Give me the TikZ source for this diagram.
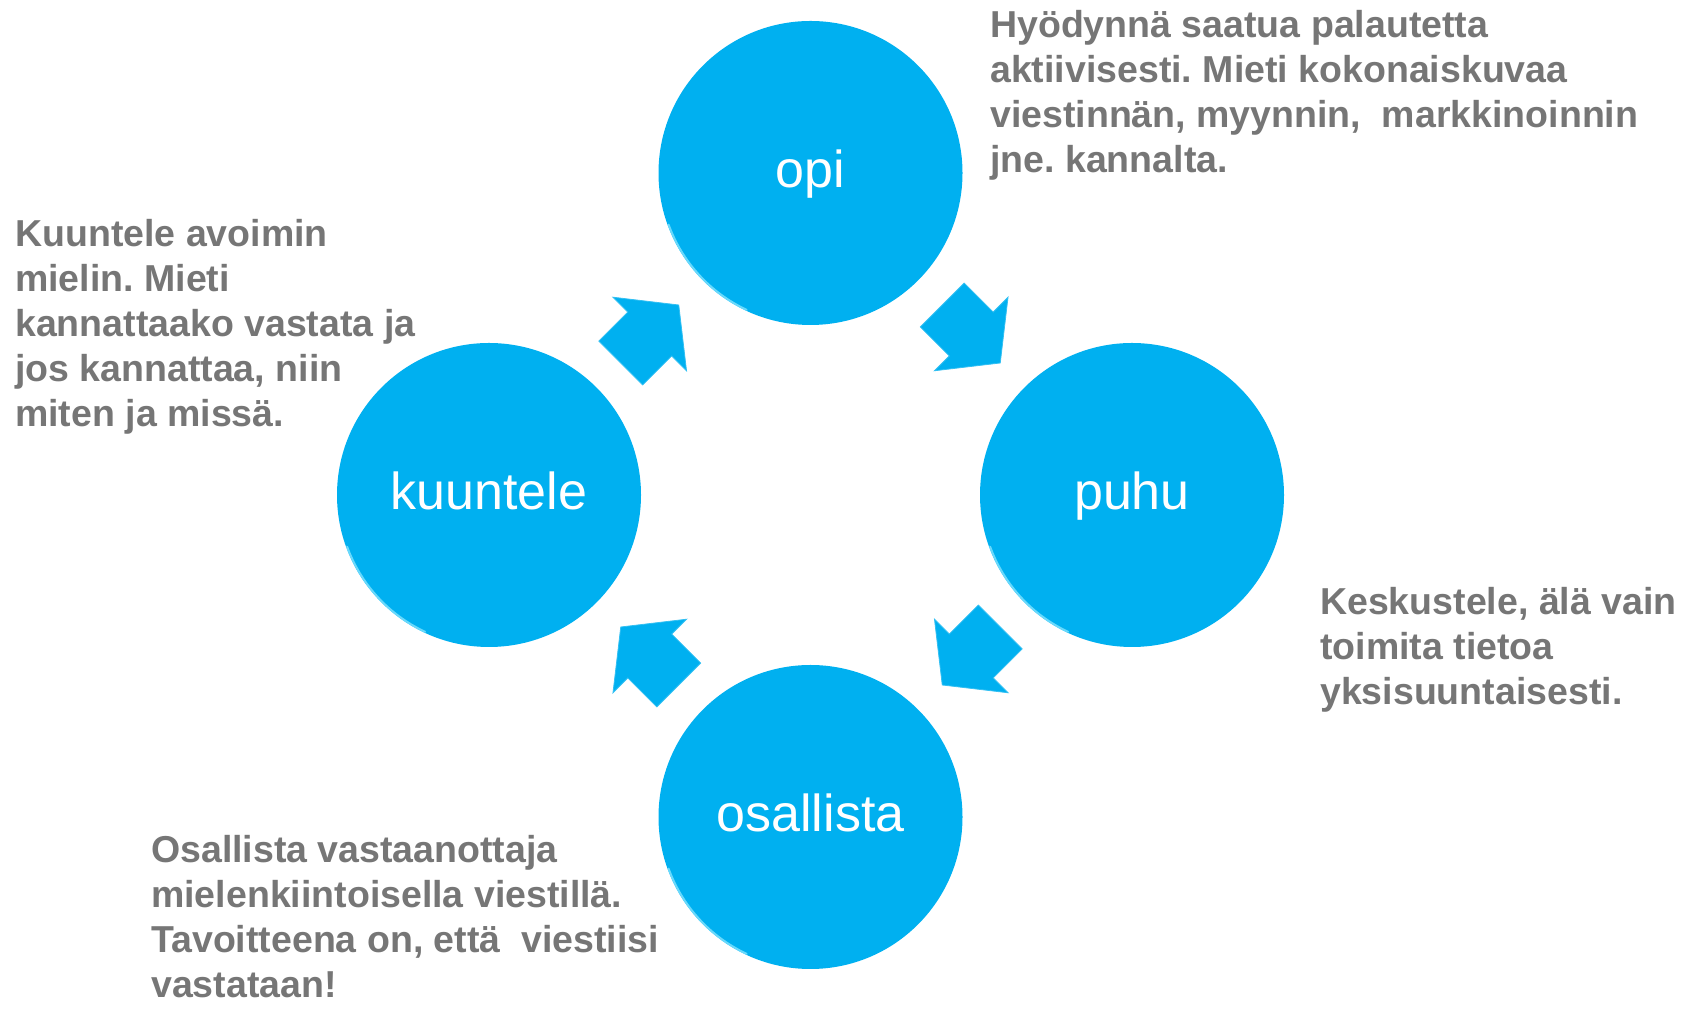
\documentclass[tikz,border=0pt]{standalone}
\usepackage{fontspec}
\setmainfont{Liberation Sans}
\usetikzlibrary{calc}
\definecolor{circblue}{RGB}{0,176,240}
\definecolor{txtgray}{RGB}{118,118,118}
\definecolor{glint}{RGB}{130,228,255}
\frenchspacing
\begin{document}
\begin{tikzpicture}[x=1pt,y=1pt,
  phase/.style={circle, fill=circblue, minimum size=304pt, inner sep=0pt,
    text=white, font=\fontsize{52pt}{60pt}\selectfont, text height=30pt, text depth=0pt},
  note/.style={text=txtgray, font=\fontsize{37.5pt}{45pt}\selectfont\bfseries,
    anchor=base west, inner sep=0pt},
  blockarrow/.style={fill=circblue, draw=circblue!80!white, line width=0.8pt, line join=miter},
  rim/.style={glint, line width=2pt, opacity=0.8, line cap=round}]
\useasboundingbox (0,0) rectangle (1690,1011);

% circles
\node[phase] (opi) at (810.5,838) {opi};
\node[phase] (kuuntele) at (489,516) {kuuntele};
\node[phase] (puhu) at (1132,516) {puhu};
\node[phase] (osallista) at (810.5,194) {osallista};

% rim highlights
\foreach \c in {opi,kuuntele,puhu,osallista}{
  \draw[rim] ($(\c.center)+(200:151)$) arc[start angle=200, end angle=245, radius=151];
}

% block arrows between circles
\filldraw[blockarrow, shift={($(kuuntele.center)!0.5!(opi.center)$)}, rotate=45]
  (-41,31) -- (0,31) -- (0,52) -- (41,0) -- (0,-52) -- (0,-31) -- (-41,-31) -- cycle;
\filldraw[blockarrow, shift={($(opi.center)!0.5!(puhu.center)$)}, rotate=-45]
  (-41,31) -- (0,31) -- (0,52) -- (41,0) -- (0,-52) -- (0,-31) -- (-41,-31) -- cycle;
\filldraw[blockarrow, shift={($(puhu.center)!0.5!(osallista.center)$)}, rotate=-135]
  (-41,31) -- (0,31) -- (0,52) -- (41,0) -- (0,-52) -- (0,-31) -- (-41,-31) -- cycle;
\filldraw[blockarrow, shift={($(osallista.center)!0.5!(kuuntele.center)$)}, rotate=135]
  (-41,31) -- (0,31) -- (0,52) -- (41,0) -- (0,-52) -- (0,-31) -- (-41,-31) -- cycle;

% notes
\node[note] (noteopi) at (990,973) {\vtop{\baselineskip=45pt
  \hbox{Hyödynnä saatua palautetta}
  \hbox{aktiivisesti. Mieti kokonaiskuvaa}
  \hbox{viestinnän, myynnin,\ \ markkinoinnin}
  \hbox{jne. kannalta.}}};
\node[note] (notekuuntele) at (15,764) {\vtop{\baselineskip=45pt
  \hbox{Kuuntele avoimin}
  \hbox{mielin. Mieti}
  \hbox{kannattaako vastata ja}
  \hbox{jos kannattaa, niin}
  \hbox{miten ja missä.}}};
\node[note] (notepuhu) at (1320,396) {\vtop{\baselineskip=45pt
  \hbox{Keskustele, älä vain}
  \hbox{toimita tietoa}
  \hbox{yksisuuntaisesti.}}};
\node[note] (noteosallista) at (151,148) {\vtop{\baselineskip=45pt
  \hbox{Osallista vastaanottaja}
  \hbox{mielenkiintoisella viestillä.}
  \hbox{Tavoitteena on, että\ \ viestiisi}
  \hbox{vastataan!}}};
\end{tikzpicture}
\end{document}
